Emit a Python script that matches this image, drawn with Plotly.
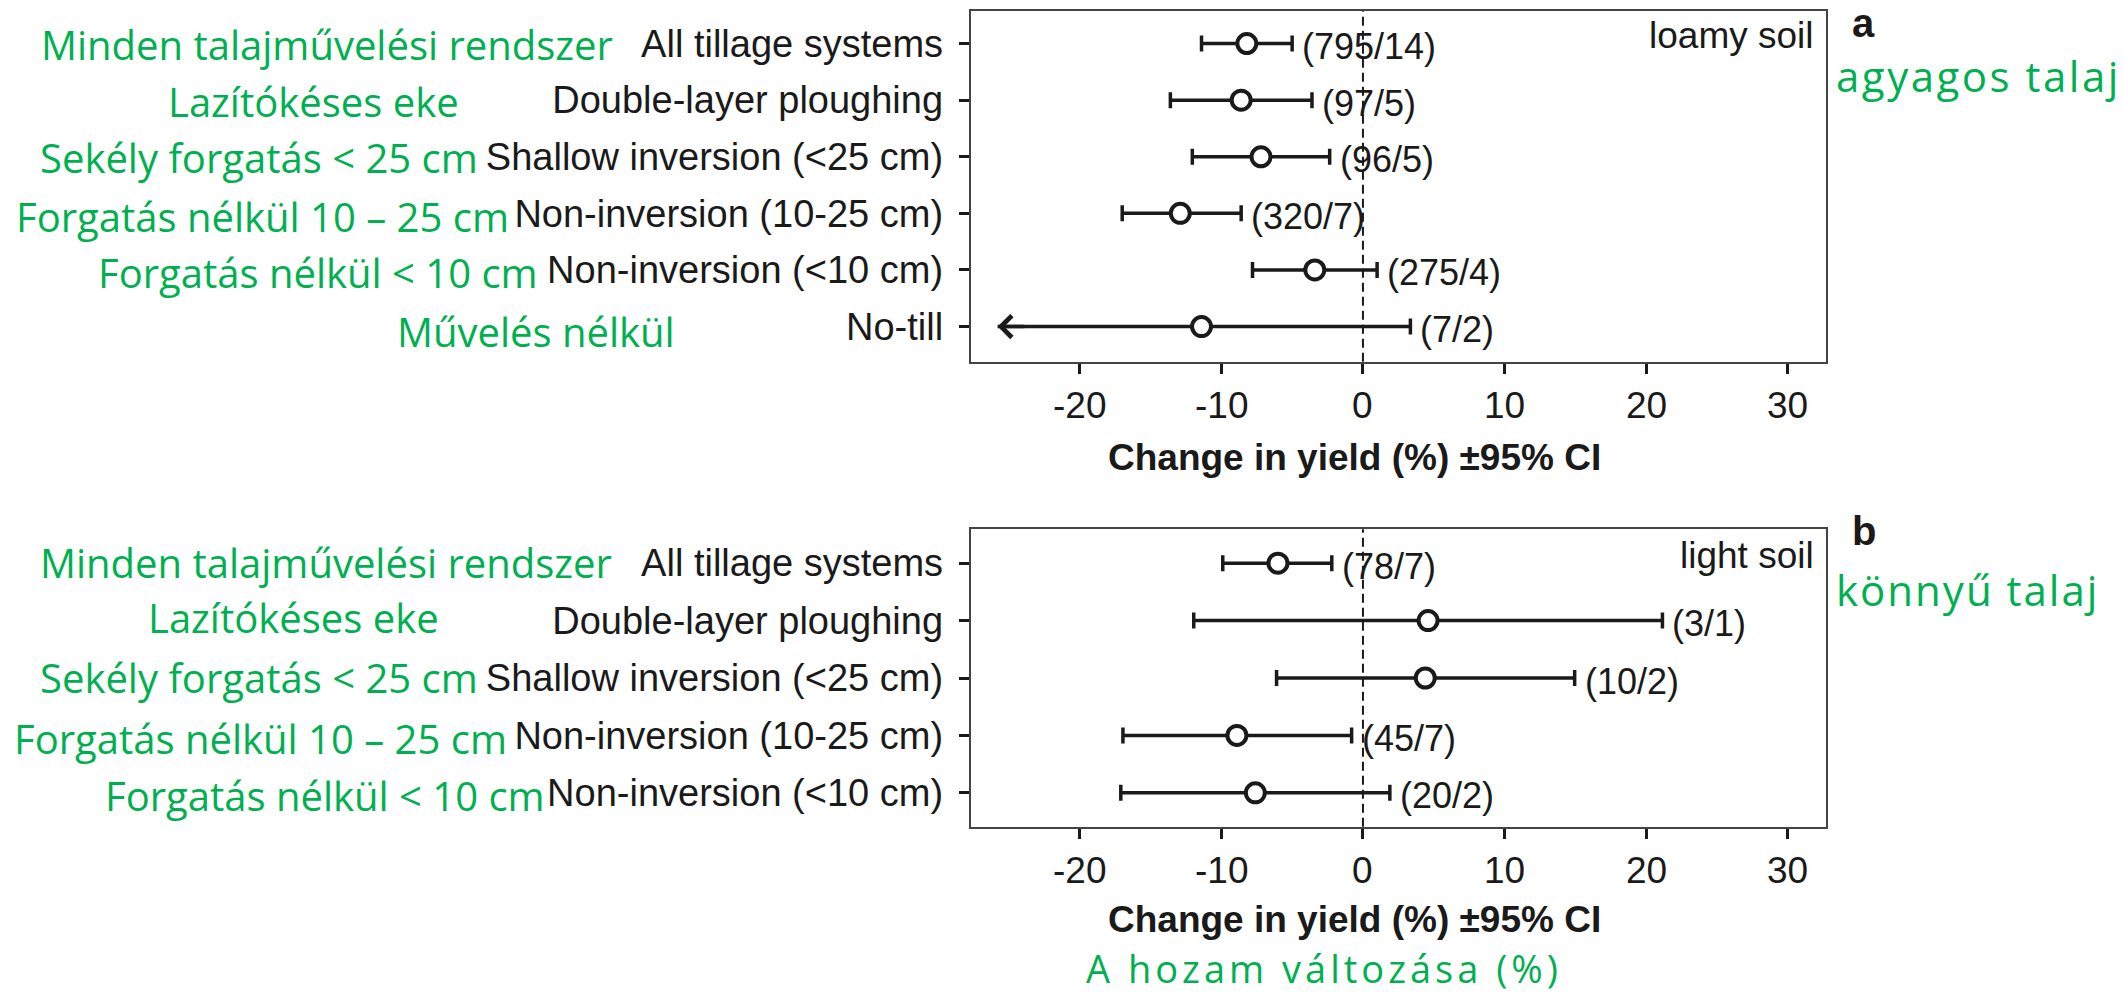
import plotly.graph_objects as go

W, H = 2124, 995

# ---- data: loamy soil (panel a) ----
labels_en_a = ["All tillage systems", "Double-layer ploughing", "Shallow inversion (<25 cm)",
               "Non-inversion (10-25 cm)", "Non-inversion (<10 cm)", "No-till"]
labels_hu_a = ["Minden talajművelési rendszer", "Lazítókéses eke", "Sekély forgatás < 25 cm",
               "Forgatás nélkül 10 – 25 cm", "Forgatás nélkül < 10 cm", "Művelés nélkül"]
mean_a = [-8.2, -8.6, -7.2, -12.9, -3.4, -11.4]
lower_a = [-11.4, -13.6, -12.05, -17.0, -7.8, -25.8]
upper_a = [-5.0, -3.6, -2.35, -8.6, 1.0, 3.35]
counts_a = ["(795/14)", "(97/5)", "(96/5)", "(320/7)", "(275/4)", "(7/2)"]
truncated_a = [False, False, False, False, False, True]

# ---- data: light soil (panel b) ----
labels_en_b = ["All tillage systems", "Double-layer ploughing", "Shallow inversion (<25 cm)",
               "Non-inversion (10-25 cm)", "Non-inversion (<10 cm)"]
labels_hu_b = ["Minden talajművelési rendszer", "Lazítókéses eke", "Sekély forgatás < 25 cm",
               "Forgatás nélkül 10 – 25 cm", "Forgatás nélkül < 10 cm"]
mean_b = [-6.0, 4.6, 4.4, -8.9, -7.6]
lower_b = [-9.9, -11.95, -6.1, -16.95, -17.1]
upper_b = [-2.2, 21.15, 14.95, -0.8, 1.9]
counts_b = ["(78/7)", "(3/1)", "(10/2)", "(45/7)", "(20/2)"]
truncated_b = [False, False, False, False, False]

x_ticks = [-20, -10, 0, 10, 20, 30]

SANS = "Liberation Sans, Arial, Helvetica, sans-serif"
GREEN_FONT = "Open Sans, sans-serif"
GREEN = "#00B050"
INK = "#1a1a1a"
AXIS_TITLE = "Change in yield (%) ±95% CI"
HU_AXIS_TITLE = "A hozam változása (%)"


def px_x(p):
    return p / W


def px_y(p):
    return 1 - p / H


fig = go.Figure()
annotations = []
shapes = []

panels = [
    dict(xa="x", ya="y", mean=mean_a, lo=lower_a, hi=upper_a, counts=counts_a, trunc=truncated_a,
         en=labels_en_a, hu=labels_hu_a, ydom=(10.7, 361.7), yr=(-0.62, 5.58),
         soil="loamy soil", soil_y=35.5, tag="a", tag_y=23.5,
         hu_soil="agyagos talaj", hu_soil_y=75.6,
         hu_y=[44.6, 101.8, 157.8, 216.3, 272.3, 331.8], hu_x=[39, 166, 38, 14, 96, 395],
         tick_y=405, title_y=458),
    dict(xa="x2", ya="y2", mean=mean_b, lo=lower_b, hi=upper_b, counts=counts_b, trunc=truncated_b,
         en=labels_en_b, hu=labels_hu_b, ydom=(529.3, 826.7), yr=(-0.59, 4.59),
         soil="light soil", soil_y=555.5, tag="b", tag_y=531,
         hu_soil="könnyű talaj", hu_soil_y=589,
         hu_y=[562, 617.7, 677, 738, 795], hu_x=[38, 146, 38, 12, 103],
         tick_y=870.5, title_y=919),
]

for p in panels:
    n = len(p["mean"])
    ypos = list(range(n - 1, -1, -1))
    plus = [h - m for h, m in zip(p["hi"], p["mean"])]
    minus = [0 if t else m - l for m, l, t in zip(p["mean"], p["lo"], p["trunc"])]

    # truncated intervals: plain stem ending in an open arrowhead
    for i in range(n):
        if p["trunc"][i]:
            fig.add_trace(go.Scatter(
                x=[p["lo"][i], p["mean"][i]], y=[ypos[i], ypos[i]], mode="lines",
                line=dict(color=INK, width=3.5), xaxis=p["xa"], yaxis=p["ya"],
                showlegend=False, hoverinfo="skip"))
            annotations.append(dict(
                x=p["lo"][i], y=ypos[i], ax=p["lo"][i] + 2, ay=ypos[i],
                xref=p["xa"], yref=p["ya"], axref=p["xa"], ayref=p["ya"],
                text="", showarrow=True, arrowhead=4, arrowsize=1.2, arrowwidth=3.5,
                arrowcolor=INK, standoff=0))

    fig.add_trace(go.Scatter(
        x=p["mean"], y=ypos, mode="markers",
        marker=dict(symbol="circle", size=19, color="white", line=dict(color=INK, width=4)),
        error_x=dict(type="data", symmetric=False, array=plus, arrayminus=minus,
                     color=INK, thickness=3.5, width=8),
        xaxis=p["xa"], yaxis=p["ya"], showlegend=False))

    # study counts next to each interval
    for i in range(n):
        annotations.append(dict(
            x=p["hi"][i], y=ypos[i], xref=p["xa"], yref=p["ya"], text=p["counts"][i],
            showarrow=False, xanchor="left", yanchor="middle", xshift=8, yshift=-3,
            font=dict(family=SANS, size=36, color=INK)))

    # x tick labels, placed on the axis scale
    for v in x_ticks:
        annotations.append(dict(
            x=v, y=px_y(p["tick_y"]), xref=p["xa"], yref="paper", text=str(v),
            showarrow=False, xanchor="center", yanchor="middle",
            font=dict(family=SANS, size=37, color=INK)))

    # Hungarian category labels
    for lbl, xx, yy in zip(p["hu"], p["hu_x"], p["hu_y"]):
        annotations.append(dict(
            x=px_x(xx), y=px_y(yy), xref="paper", yref="paper", text=lbl, showarrow=False,
            xanchor="left", yanchor="middle", font=dict(family=GREEN_FONT, size=40, color=GREEN)))

    # soil type inside the box, panel letter and Hungarian soil name outside
    annotations.append(dict(
        x=px_x(1816), y=px_y(p["soil_y"]), xref="paper", yref="paper", text=p["soil"],
        showarrow=False, xanchor="right", yanchor="middle",
        font=dict(family=SANS, size=37, color=INK)))
    annotations.append(dict(
        x=px_x(1850), y=px_y(p["tag_y"]), xref="paper", yref="paper", text="<b>%s</b>" % p["tag"],
        showarrow=False, xanchor="left", yanchor="middle",
        font=dict(family=SANS, size=40, color=INK)))
    annotations.append(dict(
        x=px_x(1834), y=px_y(p["hu_soil_y"]), xref="paper", yref="paper", text=p["hu_soil"],
        showarrow=False, xanchor="left", yanchor="middle", align="left",
        font=dict(family=GREEN_FONT, size=42, color=GREEN)))

    # x-axis title
    annotations.append(dict(
        x=px_x(1354), y=px_y(p["title_y"]), xref="paper", yref="paper",
        text="<b>%s</b>" % AXIS_TITLE, showarrow=False,
        xanchor="center", yanchor="middle", font=dict(family=SANS, size=37, color=INK)))

    # dashed reference line at zero
    shapes.append(dict(
        type="line", xref=p["xa"], yref=p["ya"] + " domain", x0=0, x1=0, y0=0, y1=1,
        line=dict(color=INK, width=2, dash="9px,5px"), layer="below"))

annotations.append(dict(
    x=px_x(1324), y=px_y(968.4), xref="paper", yref="paper", text=HU_AXIS_TITLE,
    showarrow=False, xanchor="center", yanchor="middle",
    font=dict(family=GREEN_FONT, size=38, color=GREEN)))

axis_common = dict(
    showline=True, mirror=True, linecolor="#444", linewidth=2, showgrid=False, zeroline=False,
    ticks="outside", ticklen=10, tickwidth=2.5, tickcolor=INK, title=dict(text=""))

xdom = [px_x(970.7), px_x(1826)]
layout_axes = {}
for k, p in enumerate(panels):
    sfx = "" if k == 0 else "2"
    n = len(p["mean"])
    layout_axes["xaxis" + sfx] = dict(
        axis_common, domain=xdom, range=[-27.7, 32.7], tickvals=x_ticks,
        showticklabels=False, anchor="y" + sfx)
    layout_axes["yaxis" + sfx] = dict(
        axis_common, domain=[px_y(p["ydom"][1]), px_y(p["ydom"][0])], range=list(p["yr"]),
        tickvals=list(range(n - 1, -1, -1)), ticktext=p["en"], anchor="x" + sfx,
        ticklabelstandoff=8, tickfont=dict(family=SANS, size=38, color=INK))

fig.update_layout(
    width=W, height=H, autosize=False,
    margin=dict(l=0, r=0, t=0, b=0),
    paper_bgcolor="white", plot_bgcolor="white",
    annotations=annotations, shapes=shapes,
    **layout_axes)

# widen the tracking of the spaced-out green captions
spaced = {"agyagos talaj": 2.5, "könnyű talaj": 2, HU_AXIS_TITLE: 4}
js_pairs = ",".join('"%s":%s' % (k, v) for k, v in spaced.items())
post = """
var gd = document.getElementById('{plot_id}');
var sp = {%s};
gd.querySelectorAll('text.annotation-text').forEach(function(t) {
  var s = t.textContent;
  if (sp.hasOwnProperty(s)) { t.style.letterSpacing = sp[s] + 'px'; }
});
""" % js_pairs

fig.write_html("out.html", post_script=post)
